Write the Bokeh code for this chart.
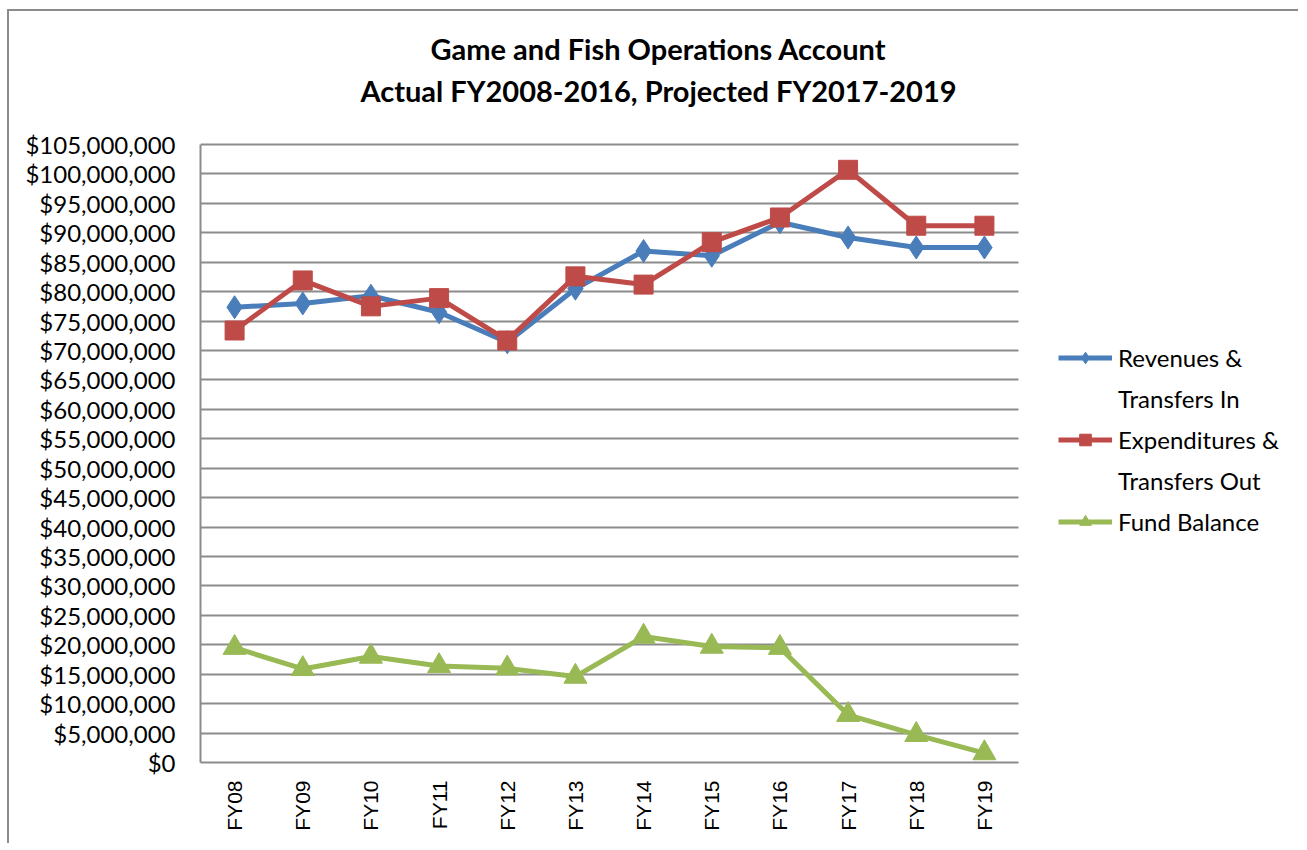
from bokeh.plotting import figure
from bokeh.models import (Range1d, FixedTicker, NumeralTickFormatter,
                          Legend, LegendItem, Label)
from bokeh.embed import file_html
from bokeh.resources import INLINE
from math import pi

categories = ["FY08", "FY09", "FY10", "FY11", "FY12", "FY13",
              "FY14", "FY15", "FY16", "FY17", "FY18", "FY19"]
revenues = [77.35e6, 78.0e6, 79.3e6, 76.5e6, 71.4e6, 80.5e6,
            86.9e6, 86.1e6, 91.8e6, 89.2e6, 87.5e6, 87.5e6]
expenditures = [73.4e6, 81.9e6, 77.5e6, 78.9e6, 71.7e6, 82.6e6,
                81.2e6, 88.4e6, 92.6e6, 100.7e6, 91.2e6, 91.2e6]
fund_balance = [19.5e6, 15.9e6, 18.0e6, 16.4e6, 16.0e6, 14.6e6,
                21.4e6, 19.7e6, 19.5e6, 8.1e6, 4.7e6, 1.6e6]
y_ticks = [0, 5e6, 10e6, 15e6, 20e6, 25e6, 30e6, 35e6, 40e6, 45e6, 50e6,
           55e6, 60e6, 65e6, 70e6, 75e6, 80e6, 85e6, 90e6, 95e6, 100e6, 105e6]
title_lines = ["Game and Fish Operations Account",
               "Actual FY2008-2016, Projected FY2017-2019"]
series_names = ["Revenues &", "Transfers In", "Expenditures &", "Transfers Out", "Fund Balance"]

x_pos = list(range(len(categories)))
Y_MAX = 105e6

BLUE = "#4a7ebb"
RED = "#be4b48"
GREEN = "#98b954"
GRID = "#8c8c8c"

# ---- layout geometry (pixels) ----
W, H = 1291, 834
OX, OY = 9, 11                      # where the figure content starts on the page
PLOT_L, PLOT_R, PLOT_T, PLOT_B = 200, 1018, 144, 762   # wanted plot area on the page
frame_left = PLOT_L - OX
frame_bottom = PLOT_B - OY
frame_w = W - frame_left
frame_h = frame_bottom
px_per_cat = (PLOT_R - PLOT_L) / len(categories)
px_per_val = (PLOT_B - PLOT_T) / Y_MAX
x_end = -0.5 + frame_w / px_per_cat
y_end = frame_h / px_per_val

p = figure(width=W, height=H, output_backend="svg", toolbar_location=None,
           x_range=Range1d(-0.5, x_end), y_range=Range1d(0, y_end),
           min_border_left=frame_left, min_border_right=0,
           min_border_top=0, min_border_bottom=H - frame_bottom)
p.styles = {"border-top": "2px solid #8c8c8c", "border-left": "2px solid #8c8c8c",
            "margin-top": "%dpx" % (OY - 2), "margin-left": "%dpx" % (OX - 2)}
p.outline_line_color = None
p.background_fill_color = "white"
p.border_fill_color = "white"

# axes
p.yaxis.ticker = FixedTicker(ticks=y_ticks)
p.yaxis.bounds = (0, Y_MAX)
p.yaxis.formatter = NumeralTickFormatter(format="$0,0")
p.yaxis.major_label_text_font = "Lato"
p.yaxis.major_label_text_font_size = "24px"
p.yaxis.major_label_text_color = "black"
p.yaxis.major_label_standoff = 25
p.yaxis.major_tick_out = 0
p.yaxis.major_tick_in = 0
p.yaxis.major_tick_line_color = None
p.yaxis.minor_tick_line_color = None
p.yaxis.axis_line_color = GRID
p.yaxis.axis_line_width = 2

p.xaxis.ticker = FixedTicker(ticks=x_pos)
p.xaxis.bounds = (-0.5, len(categories) - 0.5)
p.xaxis.major_label_overrides = {i: c for i, c in zip(x_pos, categories)}
p.xaxis.major_label_orientation = pi / 2
p.xaxis.major_label_text_font = "Liberation Sans"
p.xaxis.major_label_text_font_size = "21px"
p.xaxis.major_label_text_color = "black"
p.xaxis.major_label_standoff = 18
p.xaxis.major_tick_out = 0
p.xaxis.major_tick_in = 0
p.xaxis.major_tick_line_color = None
p.xaxis.minor_tick_line_color = None
p.xaxis.axis_line_color = GRID
p.xaxis.axis_line_width = 2

p.xgrid.grid_line_color = None
p.ygrid.grid_line_color = GRID
p.ygrid.grid_line_width = 2
p.ygrid.cross_bounds = (-0.5, len(categories) - 0.5)

# series
r1l = p.line(x_pos, revenues, line_color=BLUE, line_width=5)
r1m = p.scatter(x_pos, revenues, marker="diamond", size=23, fill_color=BLUE, line_color=BLUE)
r2l = p.line(x_pos, expenditures, line_color=RED, line_width=5)
r2m = p.scatter(x_pos, expenditures, marker="square", size=19, fill_color=RED, line_color=RED)
r3l = p.line(x_pos, fund_balance, line_color=GREEN, line_width=5)
r3m = p.scatter(x_pos, fund_balance, marker="triangle", size=23, fill_color=GREEN, line_color=GREEN)
blank = p.line(x=[], y=[], line_alpha=0)

# legend (inside the wide frame, right of the plotted area)
LEG_GLYPH_X = 1058      # page x where the legend glyphs start
LEG_FIRST_Y = 358       # page y of the first entry's centre
item_h, gap = 29, 12
leg_h = 5 * item_h + 4 * gap
leg_bottom_page = LEG_FIRST_Y - item_h / 2 + leg_h
legend = Legend(items=[
    LegendItem(label=series_names[0], renderers=[r1l, r1m]),
    LegendItem(label=series_names[1], renderers=[blank]),
    LegendItem(label=series_names[2], renderers=[r2l, r2m]),
    LegendItem(label=series_names[3], renderers=[blank]),
    LegendItem(label=series_names[4], renderers=[r3l, r3m]),
], location=(int(LEG_GLYPH_X - PLOT_L), int(round(PLOT_B - leg_bottom_page))))
legend.glyph_width = 54
legend.glyph_height = item_h
legend.label_height = item_h
legend.spacing = gap
legend.label_standoff = 6
legend.padding = 0
legend.margin = 0
legend.border_line_color = None
legend.background_fill_alpha = 0
legend.label_text_font = "Lato"
legend.label_text_font_size = "24px"
legend.label_text_color = "black"
p.add_layout(legend, "center")

# two-line title, centred at page x=658
TITLE_CX = 658
for txt, ty in zip(title_lines, [48, 90]):
    p.add_layout(Label(x=TITLE_CX - PLOT_L, y=PLOT_B - ty, x_units="screen", y_units="screen",
                       text=txt, text_align="center", text_baseline="middle",
                       text_font="Lato", text_font_style="bold",
                       text_font_size="29px", text_color="black"))

open("out.html", "w").write(file_html(p, INLINE))
